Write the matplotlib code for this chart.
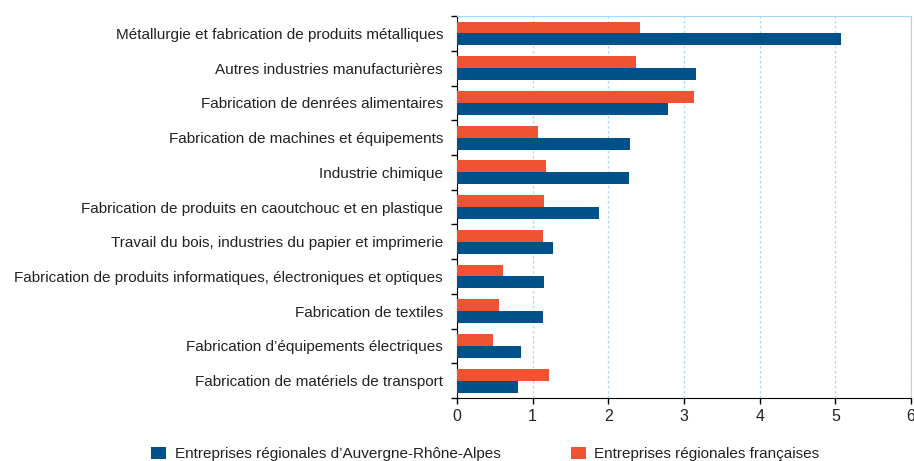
import matplotlib.pyplot as plt
import numpy as np

# Données (lecture du graphique)
secteurs = [
    "Métallurgie et fabrication de produits métalliques",
    "Autres industries manufacturières",
    "Fabrication de denrées alimentaires",
    "Fabrication de machines et équipements",
    "Industrie chimique",
    "Fabrication de produits en caoutchouc et en plastique",
    "Travail du bois, industries du papier et imprimerie",
    "Fabrication de produits informatiques, électroniques et optiques",
    "Fabrication de textiles",
    "Fabrication d\u2019équipements électriques",
    "Fabrication de matériels de transport",
]
aura = [5.07, 3.16, 2.79, 2.29, 2.27, 1.88, 1.27, 1.15, 1.13, 0.85, 0.81]
france = [2.42, 2.37, 3.13, 1.07, 1.17, 1.15, 1.14, 0.61, 0.56, 0.48, 1.22]
lab_aura = "Entreprises régionales d\u2019Auvergne-Rhône-Alpes"
lab_fr = "Entreprises régionales françaises"

plt.rcParams['font.family'] = ['Liberation Sans', 'DejaVu Sans']
plt.rcParams['text.color'] = '#222222'
plt.rcParams['xtick.labelcolor'] = '#222222'
plt.rcParams['ytick.labelcolor'] = '#222222'

blue = '#00508a'
orange = '#f05332'
grid_c = '#a9d6f2'

fig = plt.figure(figsize=(9.14, 4.61), dpi=100)
ax = fig.add_axes([0.5, 0.1367, 0.4967, 0.8283])

y = np.arange(len(secteurs))
h = 0.345
ax.barh(y - h / 2, france, height=h, color=orange, label=lab_fr, zorder=3)
ax.barh(y + h / 2, aura, height=h, color=blue, label=lab_aura, zorder=3)

ax.set_ylim(len(secteurs) - 0.5, -0.5)
ax.set_xlim(0, 6)
ax.set_yticks(y)
ax.set_yticklabels(secteurs, fontsize=11)
ax.set_yticks(np.arange(-0.5, len(secteurs)), minor=True)
ax.tick_params(axis='y', which='major', length=0, pad=10)
ax.tick_params(axis='y', which='minor', length=4, width=1, color='black', direction='out')
ax.set_xticks(range(7))
ax.tick_params(axis='x', length=4, width=1, labelsize=11.5, pad=4)

ax.grid(axis='x', color=grid_c, linestyle=(0, (2, 2)), linewidth=0.9, zorder=0)
ax.spines['left'].set_color('black')
ax.spines['bottom'].set_color('black')
ax.spines['top'].set_color(grid_c)
ax.spines['right'].set_color(grid_c)

handles, labels = ax.get_legend_handles_labels()
fig.legend(handles[::-1], labels[::-1], loc='lower left', bbox_to_anchor=(0.15, -0.03),
           ncol=2, frameon=False, fontsize=11, handlelength=1.0, handleheight=0.85,
           columnspacing=4.6, handletextpad=0.55)

plt.savefig('out.png', dpi=100)
